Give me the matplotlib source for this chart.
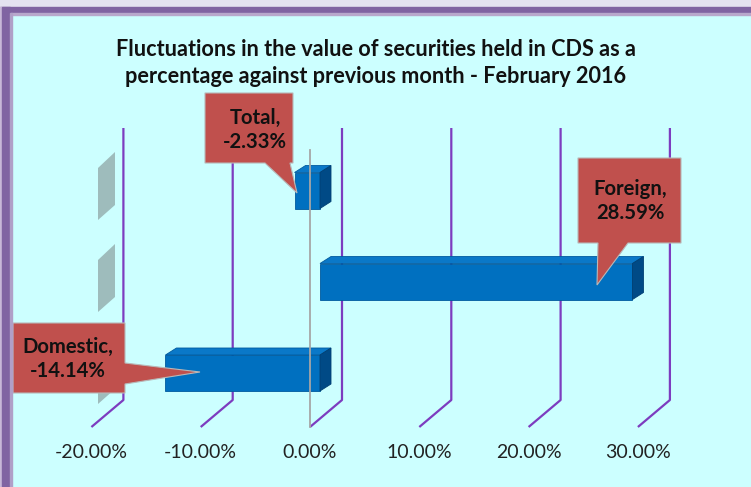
import matplotlib
matplotlib.use('Agg')
import matplotlib.pyplot as plt
from matplotlib.patches import Polygon, Rectangle
from matplotlib.transforms import Affine2D

# data
categories = ['Total', 'Foreign', 'Domestic']
values = [-2.33, 28.59, -14.14]
ticks = [-20, -10, 0, 10, 20, 30]
tick_labels = ['-20.00%', '-10.00%', '0.00%', '10.00%', '20.00%', '30.00%']
title = ('Fluctuations in the value of securities held in CDS as a\n'
         'percentage against previous month - February 2016')

W, H = 751, 487
PPP = 10.93          # pixels per percent point
ZERO = 320           # pixel x of 0% in the bar plane

def X(p):
    # pixel -> percent (layout helper)
    return (p - ZERO) / PPP

plt.rcParams['font.family'] = ['Lato', 'DejaVu Sans']

fig = plt.figure(figsize=(W / 100, H / 100), dpi=100)
fig.patch.set_facecolor('#ccffff')
ax = fig.add_axes([0, 0, 1, 1])
ax.set_xlim(X(0), X(W))
ax.set_ylim(H, 0)
ax.axis('off')

# pixel transform for decorations
pxt = Affine2D().scale(1, -1).translate(0, H)

# frame
for (x0, y0, w, h, c) in [(0, 0, W, 7, '#e4e2f0'), (0, 7, W, 6, '#8064a2'),
                          (0, 13, W, 1.5, '#b8a8cc'), (0, 7, 2, H, '#c8b8d8'),
                          (2, 7, 8, H, '#8064a2'), (10, 13, 2, H, '#b0a0c8')]:
    fig.patches.append(Rectangle((x0, y0), w, h, transform=pxt, color=c, zorder=0))

# faded category axis pieces
for yc in [186, 278, 370]:
    ax.add_patch(Polygon([(115, yc - 34), (115, yc + 19), (98, yc + 34), (98, yc - 18)],
                         closed=True, transform=pxt, facecolor='#93acac', edgecolor='none',
                         alpha=0.8, zorder=1))

# gridlines: back wall + floor
back = X(342) - X(ZERO)
front = X(310) - X(ZERO)
for t in ticks:
    ax.plot([t + back, t + back, t + front], [128, 400, 427], color='#7d3cbf', lw=1.6,
            zorder=1, solid_capstyle='butt')

# bars with a little depth
dx = 11 / PPP
dy = 7
bar_y = [190.5, 281.5, 373]
bh = 36
ax.barh(bar_y, values, height=bh, color='#0070c0', edgecolor='#005a9e', lw=0.6, zorder=3)
for yc, v in zip(bar_y, values):
    lo, hi = min(0, v), max(0, v)
    top, bot = yc - bh / 2, yc + bh / 2
    ax.add_patch(Polygon([(lo, top), (hi, top), (hi + dx, top - dy), (lo + dx, top - dy)],
                         closed=True, facecolor='#0a78c8', edgecolor='#005a9e', lw=0.6, zorder=3))
    ax.add_patch(Polygon([(hi, top), (hi, bot), (hi + dx, bot - dy), (hi + dx, top - dy)],
                         closed=True, facecolor='#004a86', edgecolor='#003f73', lw=0.6, zorder=3))

# front 0% axis line
ax.plot([front, front], [150, 427], color='#a6a6a6', lw=1.3, zorder=4)

# tick labels on the floor front
for t, lab in zip(ticks, tick_labels):
    ax.text(t + front, 453, lab, ha='center', va='center', fontsize=14, color='#222222')

# title
fig.text(0.5, 1 - 63 / H, title, ha='center', va='center', fontsize=15.6,
         fontweight='bold', linespacing=1.38, color='#111111')

# callouts
callouts = [
    ([(205, 93), (293, 93), (293, 163), (290, 163), (297, 193), (265, 163), (205, 163)], (255, 130)),
    ([(578, 158), (681, 158), (681, 243), (628, 243), (597, 285), (598, 243), (578, 243)], (630, 201)),
    ([(13, 323), (125, 323), (125, 363), (200, 372), (125, 384), (125, 393), (13, 393)], (68, 359)),
]
for (poly, (tx, ty)), cat, v in zip(callouts, categories, values):
    ax.add_patch(Polygon(poly, closed=True, transform=pxt, facecolor='#c0504d',
                         edgecolor='#b8b8b8', lw=0.8, zorder=5))
    ax.text(tx, ty, f'{cat},\n{v:.2f}%', transform=pxt, ha='center', va='center',
            fontsize=14.6, fontweight='bold', linespacing=1.28, color='#111111', zorder=6)

fig.savefig('out.png', dpi=100, facecolor=fig.get_facecolor())
